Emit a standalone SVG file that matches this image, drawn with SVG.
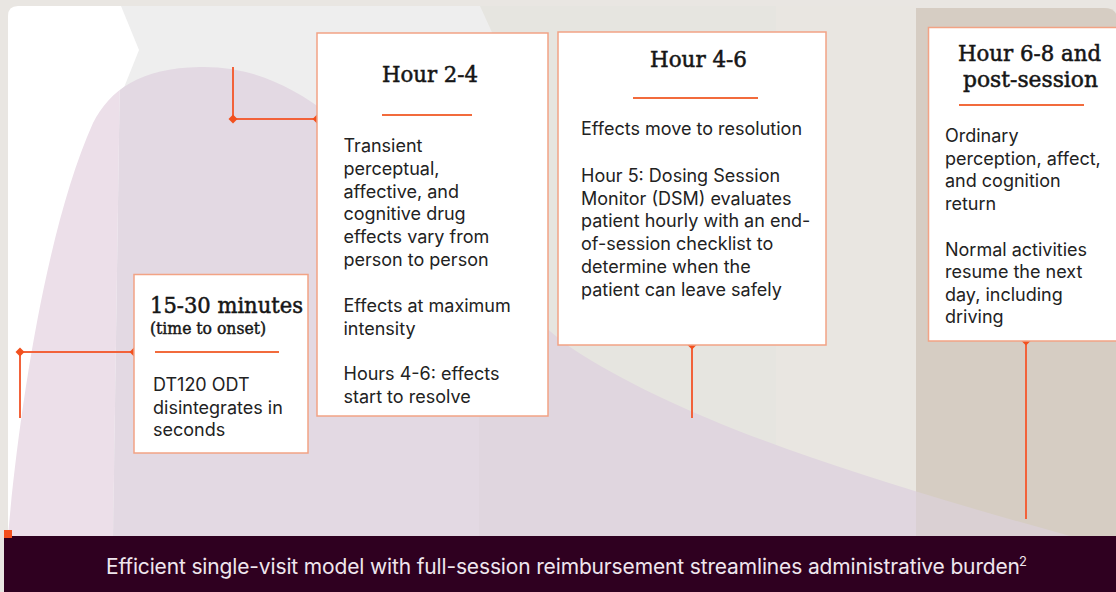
<svg xmlns="http://www.w3.org/2000/svg" width="1116" height="592" viewBox="0 0 1116 592">
  <style>
    .box { fill: #ffffff; stroke: #f2a385; stroke-width: 1.5; }
    .rule { stroke: #f26b3c; stroke-width: 2; }
    .conn { stroke: #f2623a; stroke-width: 2; fill: none; }
    .dot { fill: #f2501e; }
    .title { font-family: "DejaVu Serif", "Liberation Serif", serif; font-size: 23px; fill: #161616; stroke: #161616; stroke-width: 0.55; }
    .sub { font-family: "DejaVu Serif", "Liberation Serif", serif; font-size: 16px; fill: #161616; stroke: #161616; stroke-width: 0.45; }
    .body { font-family: Inter, "Liberation Sans", sans-serif; font-size: 18px; fill: #222222; }
    .banner { font-family: Inter, "Liberation Sans", sans-serif; font-size: 21px; fill: #efe6ee; }
    .sup { font-family: Inter, "Liberation Sans", sans-serif; font-size: 13px; fill: #efe6ee; }
  </style>
  <defs>
    <path id="dot" d="M-4.5 0L0-4.5L4.5 0L0 4.5Z"/>
    <clipPath id="wave">
      <path d="M 8 536 C 18 420, 45 230, 93 123 C 110 90, 140 68, 200 67 C 250 66, 290 85, 330 115 C 380 152, 480 280, 570 347 C 680 420, 850 475, 1070 536 Z"/>
    </clipPath>
  </defs>

  <!-- page background -->
  <rect x="0" y="0" width="1116" height="592" fill="#e9e6e2"/>

  <!-- time bands -->
  <g id="bands">
    <path d="M 480 6 L 916 6 L 916 536 L 480 536 Z" fill="#e6e5e0"/>
    <rect x="776" y="6" width="140" height="530" fill="#e9e6e1"/>
    <path d="M 121 6 L 480 6 L 500 50 L 480 95 L 479 536 L 113 536 Z" fill="#eeeeee"/>
    <path d="M 18 6 L 121 6 L 139 50 L 121 95 L 113 536 L 8 536 L 8 16 Q 8 6 18 6 Z" fill="#ffffff"/>
    <path d="M 916 8 L 1104 8 Q 1118 8 1118 22 L 1118 536 L 916 536 Z" fill="#d6cdc3"/>
  </g>

  <!-- drug effect curve, tinted per band -->
  <g id="effect-curve" clip-path="url(#wave)">
    <path d="M 0 0 L 121 0 L 113 540 L 0 540 Z" fill="#ecdfe9"/>
    <path d="M 121 0 L 480 0 L 479 540 L 113 540 Z" fill="#e3d9e3"/>
    <rect x="479" y="0" width="437" height="540" fill="#e0d6df"/>
    <rect x="916" y="0" width="200" height="540" fill="#dad0d3"/>
  </g>

  <!-- connectors -->
  <g id="connectors">
    <path class="conn" d="M 20 418 L 20 352 L 134 352"/>
    <path class="conn" d="M 233 67 L 233 119 L 317 119"/>
    <path class="conn" d="M 692 345 L 692 418"/>
    <path class="conn" d="M 1026 341 L 1026 519"/>
    <use href="#dot" class="dot" x="20" y="352"/>
    <use href="#dot" class="dot" x="134" y="352"/>
    <use href="#dot" class="dot" x="233" y="119"/>
    <use href="#dot" class="dot" x="317" y="119"/>
    <use href="#dot" class="dot" x="692" y="345"/>
    <use href="#dot" class="dot" x="1026" y="341"/>
  </g>

  <!-- onset -->
  <g id="node-onset">
    <rect class="box" x="134" y="274.5" width="174" height="178.5"/>
    <text class="title" x="150" y="313" textLength="153" lengthAdjust="spacingAndGlyphs">15-30 minutes</text>
    <text class="sub" x="150" y="334" textLength="116" lengthAdjust="spacingAndGlyphs">(time to onset)</text>
    <line class="rule" x1="155" y1="352" x2="279" y2="352"/>
    <text class="body" x="153" y="391">DT120 ODT</text>
    <text class="body" x="153" y="413.5">disintegrates in</text>
    <text class="body" x="153" y="436">seconds</text>
  </g>

  <!-- hour 2-4 -->
  <g id="node-hour-2-4">
    <rect class="box" x="317" y="33" width="231" height="383"/>
    <text class="title" x="382" y="82" textLength="96" lengthAdjust="spacingAndGlyphs">Hour 2-4</text>
    <line class="rule" x1="382" y1="115" x2="472" y2="115"/>
    <text class="body" x="343.5" y="152">Transient</text>
    <text class="body" x="343.5" y="174.8">perceptual,</text>
    <text class="body" x="343.5" y="197.6">affective, and</text>
    <text class="body" x="343.5" y="220.4">cognitive drug</text>
    <text class="body" x="343.5" y="243.2">effects vary from</text>
    <text class="body" x="343.5" y="266">person to person</text>
    <text class="body" x="343.5" y="312">Effects at maximum</text>
    <text class="body" x="343.5" y="334.5">intensity</text>
    <text class="body" x="343.5" y="380">Hours 4-6: effects</text>
    <text class="body" x="343.5" y="403">start to resolve</text>
  </g>

  <!-- hour 4-6 -->
  <g id="node-hour-4-6">
    <rect class="box" x="558" y="32" width="268" height="313"/>
    <text class="title" x="650" y="67" textLength="97" lengthAdjust="spacingAndGlyphs">Hour 4-6</text>
    <line class="rule" x1="633" y1="98" x2="758" y2="98"/>
    <text class="body" x="581" y="135">Effects move to resolution</text>
    <text class="body" x="581" y="182">Hour 5: Dosing Session</text>
    <text class="body" x="581" y="204.7">Monitor (DSM) evaluates</text>
    <text class="body" x="581" y="227.4">patient hourly with an end-</text>
    <text class="body" x="581" y="250.1">of-session checklist to</text>
    <text class="body" x="581" y="272.8">determine when the</text>
    <text class="body" x="581" y="295.5">patient can leave safely</text>
  </g>

  <!-- hour 6-8 and post-session -->
  <g id="node-hour-6-8">
    <rect class="box" x="928.5" y="27.5" width="200" height="313.5"/>
    <text class="title" x="958" y="61" textLength="143" lengthAdjust="spacingAndGlyphs">Hour 6-8 and</text>
    <text class="title" x="963" y="87" textLength="135" lengthAdjust="spacingAndGlyphs">post-session</text>
    <line class="rule" x1="959" y1="105" x2="1084" y2="105"/>
    <text class="body" x="945" y="142">Ordinary</text>
    <text class="body" x="945" y="164.5">perception, affect,</text>
    <text class="body" x="945" y="187">and cognition</text>
    <text class="body" x="945" y="209.5">return</text>
    <text class="body" x="945" y="255.5">Normal activities</text>
    <text class="body" x="945" y="278">resume the next</text>
    <text class="body" x="945" y="300.5">day, including</text>
    <text class="body" x="945" y="323">driving</text>
  </g>

  <!-- banner -->
  <g id="banner">
    <rect x="4" y="536" width="1112" height="56" fill="#2f0020"/>
    <rect x="4" y="530" width="8" height="8" fill="#f2501e"/>
    <text class="banner" x="106" y="574" textLength="914" lengthAdjust="spacing">Efficient single-visit model with full-session reimbursement streamlines administrative burden</text>
    <text class="sup" x="1019" y="566">2</text>
  </g>
</svg>
